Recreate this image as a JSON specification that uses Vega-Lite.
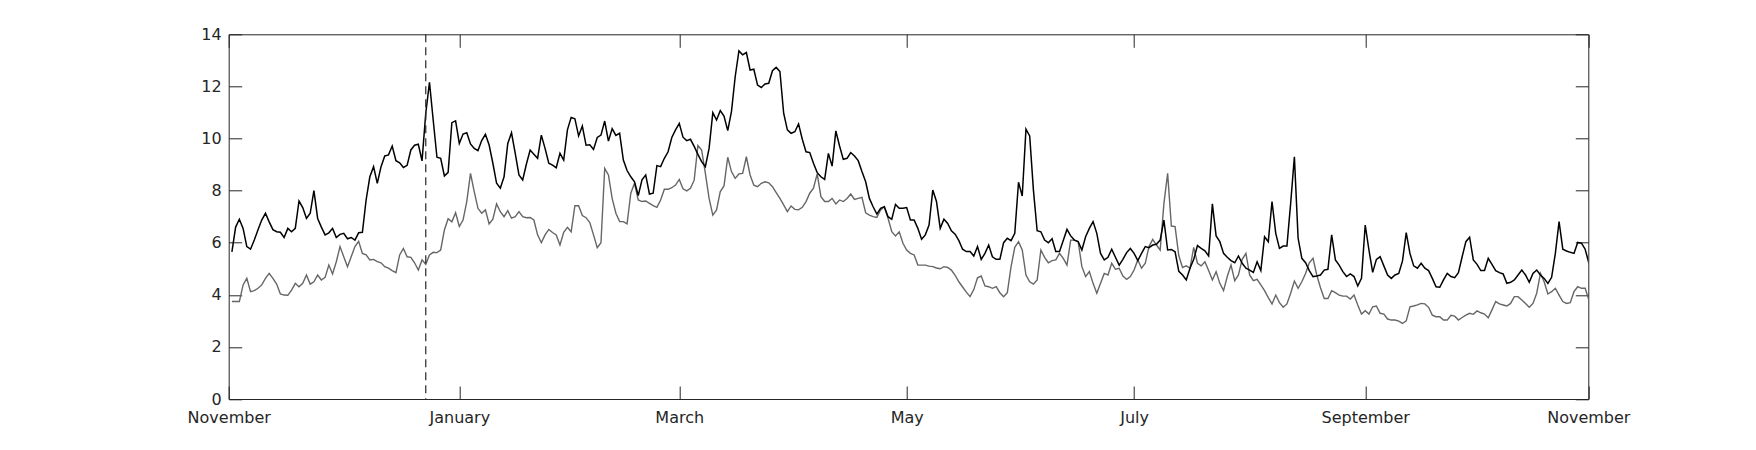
{
  "$schema": "https://vega.github.io/schema/vega-lite/v6.json",
  "width": 1359.6,
  "height": 364.7,
  "autosize": {"type": "none"},
  "padding": {"left": 228.7, "top": 34.3, "right": 167.7, "bottom": 51},
  "background": "white",
  "config": {
    "view": {"stroke": "#262626", "strokeWidth": 1},
    "axis": {
      "domain": false, "grid": false, "ticks": true, "tickColor": "#262626", "tickWidth": 1, "tickSize": -13,
      "labelFont": "DejaVu Sans", "labelFontSize": 16, "labelColor": "#262626", "title": null,
      "labelFlush": false, "labelOverlap": false, "labelBound": false
    }
  },
  "data": {"values": [
    {"d":"2013-11-01","a":5.65,"b":3.74},{"d":"2013-11-02","a":6.6,"b":3.74},{"d":"2013-11-03","a":6.9,"b":3.74},{"d":"2013-11-04","a":6.55,"b":4.38},{"d":"2013-11-05","a":5.85,"b":4.63},{"d":"2013-11-06","a":5.75,"b":4.12},{"d":"2013-11-07","a":6.1,"b":4.16},{"d":"2013-11-08","a":6.5,"b":4.25},{"d":"2013-11-09","a":6.87,"b":4.38},{"d":"2013-11-10","a":7.13,"b":4.63},
    {"d":"2013-11-11","a":6.8,"b":4.82},{"d":"2013-11-12","a":6.5,"b":4.63},{"d":"2013-11-13","a":6.42,"b":4.41},{"d":"2013-11-14","a":6.4,"b":4.03},{"d":"2013-11-15","a":6.2,"b":3.99},{"d":"2013-11-16","a":6.55,"b":3.98},{"d":"2013-11-17","a":6.42,"b":4.18},{"d":"2013-11-18","a":6.55,"b":4.44},{"d":"2013-11-19","a":7.6,"b":4.31},{"d":"2013-11-20","a":7.35,"b":4.44},
    {"d":"2013-11-21","a":6.93,"b":4.76},{"d":"2013-11-22","a":7.13,"b":4.41},{"d":"2013-11-23","a":8.0,"b":4.5},{"d":"2013-11-24","a":6.93,"b":4.76},{"d":"2013-11-25","a":6.6,"b":4.57},{"d":"2013-11-26","a":6.3,"b":4.67},{"d":"2013-11-27","a":6.38,"b":5.14},{"d":"2013-11-28","a":6.55,"b":4.8},{"d":"2013-11-29","a":6.2,"b":5.27},{"d":"2013-11-30","a":6.32,"b":5.85},
    {"d":"2013-12-01","a":6.36,"b":5.46},{"d":"2013-12-02","a":6.15,"b":5.08},{"d":"2013-12-03","a":6.2,"b":5.46},{"d":"2013-12-04","a":6.1,"b":5.85},{"d":"2013-12-05","a":6.38,"b":6.05},{"d":"2013-12-06","a":6.4,"b":5.59},{"d":"2013-12-07","a":7.64,"b":5.53},{"d":"2013-12-08","a":8.53,"b":5.34},{"d":"2013-12-09","a":8.92,"b":5.36},{"d":"2013-12-10","a":8.28,"b":5.27},
    {"d":"2013-12-11","a":8.92,"b":5.23},{"d":"2013-12-12","a":9.33,"b":5.08},{"d":"2013-12-13","a":9.37,"b":5.02},{"d":"2013-12-14","a":9.71,"b":4.93},{"d":"2013-12-15","a":9.15,"b":4.85},{"d":"2013-12-16","a":9.07,"b":5.53},{"d":"2013-12-17","a":8.89,"b":5.78},{"d":"2013-12-18","a":8.97,"b":5.46},{"d":"2013-12-19","a":9.56,"b":5.44},{"d":"2013-12-20","a":9.74,"b":5.23},
    {"d":"2013-12-21","a":9.78,"b":4.95},{"d":"2013-12-22","a":9.14,"b":5.34},{"d":"2013-12-23","a":10.97,"b":5.17},{"d":"2013-12-24","a":12.16,"b":5.53},{"d":"2013-12-25","a":10.7,"b":5.63},{"d":"2013-12-26","a":9.28,"b":5.62},{"d":"2013-12-27","a":9.24,"b":5.72},{"d":"2013-12-28","a":8.56,"b":6.49},{"d":"2013-12-29","a":8.7,"b":6.92},{"d":"2013-12-30","a":10.61,"b":6.8},
    {"d":"2013-12-31","a":10.68,"b":7.15},
    {"d":"2014-01-01","a":9.81,"b":6.62},{"d":"2014-01-02","a":10.17,"b":6.87},{"d":"2014-01-03","a":10.22,"b":7.58},{"d":"2014-01-04","a":9.79,"b":8.66},{"d":"2014-01-05","a":9.62,"b":7.96},{"d":"2014-01-06","a":9.53,"b":7.32},{"d":"2014-01-07","a":9.92,"b":7.13},{"d":"2014-01-08","a":10.16,"b":7.26},{"d":"2014-01-09","a":9.75,"b":6.72},{"d":"2014-01-10","a":9.05,"b":6.9},
    {"d":"2014-01-11","a":8.28,"b":7.49},{"d":"2014-01-12","a":8.09,"b":7.19},{"d":"2014-01-13","a":8.53,"b":7.0},{"d":"2014-01-14","a":9.81,"b":7.23},{"d":"2014-01-15","a":10.22,"b":6.94},{"d":"2014-01-16","a":9.43,"b":7.0},{"d":"2014-01-17","a":8.6,"b":7.19},{"d":"2014-01-18","a":8.41,"b":7.0},{"d":"2014-01-19","a":9.02,"b":6.96},{"d":"2014-01-20","a":9.56,"b":6.97},
    {"d":"2014-01-21","a":9.4,"b":6.87},{"d":"2014-01-22","a":9.24,"b":6.3},{"d":"2014-01-23","a":10.13,"b":6.0},{"d":"2014-01-24","a":9.62,"b":6.3},{"d":"2014-01-25","a":9.05,"b":6.51},{"d":"2014-01-26","a":8.98,"b":6.39},{"d":"2014-01-27","a":8.88,"b":6.3},{"d":"2014-01-28","a":9.43,"b":5.91},{"d":"2014-01-29","a":9.17,"b":6.4},{"d":"2014-01-30","a":10.33,"b":6.59},
    {"d":"2014-01-31","a":10.81,"b":6.42},
    {"d":"2014-02-01","a":10.76,"b":7.42},{"d":"2014-02-02","a":10.1,"b":7.42},{"d":"2014-02-03","a":10.48,"b":7.04},{"d":"2014-02-04","a":9.74,"b":6.96},{"d":"2014-02-05","a":9.76,"b":6.77},{"d":"2014-02-06","a":9.58,"b":6.3},{"d":"2014-02-07","a":10.04,"b":5.81},{"d":"2014-02-08","a":10.13,"b":6.0},{"d":"2014-02-09","a":10.67,"b":8.85},{"d":"2014-02-10","a":9.9,"b":8.6},
    {"d":"2014-02-11","a":10.38,"b":7.7},{"d":"2014-02-12","a":10.12,"b":7.13},{"d":"2014-02-13","a":10.2,"b":6.81},{"d":"2014-02-14","a":9.17,"b":6.81},{"d":"2014-02-15","a":8.77,"b":6.72},{"d":"2014-02-16","a":8.53,"b":7.9},{"d":"2014-02-17","a":8.34,"b":8.28},{"d":"2014-02-18","a":7.81,"b":7.64},{"d":"2014-02-19","a":8.41,"b":7.58},{"d":"2014-02-20","a":8.6,"b":7.6},
    {"d":"2014-02-21","a":7.87,"b":7.51},{"d":"2014-02-22","a":7.9,"b":7.42},{"d":"2014-02-23","a":8.96,"b":7.36},{"d":"2014-02-24","a":8.92,"b":7.64},{"d":"2014-02-25","a":9.24,"b":8.05},{"d":"2014-02-26","a":9.49,"b":8.05},{"d":"2014-02-27","a":10.04,"b":8.11},{"d":"2014-02-28","a":10.33,"b":8.21},
    {"d":"2014-03-01","a":10.58,"b":8.43},{"d":"2014-03-02","a":10.05,"b":8.07},{"d":"2014-03-03","a":9.92,"b":7.99},{"d":"2014-03-04","a":9.97,"b":8.09},{"d":"2014-03-05","a":9.7,"b":8.4},{"d":"2014-03-06","a":9.39,"b":9.73},{"d":"2014-03-07","a":9.11,"b":9.56},{"d":"2014-03-08","a":8.92,"b":8.66},{"d":"2014-03-09","a":9.62,"b":7.7},{"d":"2014-03-10","a":10.99,"b":7.06},
    {"d":"2014-03-11","a":10.71,"b":7.26},{"d":"2014-03-12","a":11.07,"b":7.96},{"d":"2014-03-13","a":10.86,"b":8.18},{"d":"2014-03-14","a":10.3,"b":9.28},{"d":"2014-03-15","a":11.03,"b":8.73},{"d":"2014-03-16","a":12.37,"b":8.47},{"d":"2014-03-17","a":13.36,"b":8.64},{"d":"2014-03-18","a":13.21,"b":8.66},{"d":"2014-03-19","a":13.3,"b":9.3},{"d":"2014-03-20","a":12.63,"b":8.6},
    {"d":"2014-03-21","a":12.66,"b":8.21},{"d":"2014-03-22","a":12.05,"b":8.15},{"d":"2014-03-23","a":11.96,"b":8.28},{"d":"2014-03-24","a":12.09,"b":8.34},{"d":"2014-03-25","a":12.12,"b":8.3},{"d":"2014-03-26","a":12.6,"b":8.15},{"d":"2014-03-27","a":12.73,"b":7.92},{"d":"2014-03-28","a":12.57,"b":7.7},{"d":"2014-03-29","a":10.97,"b":7.45},{"d":"2014-03-30","a":10.33,"b":7.19},
    {"d":"2014-03-31","a":10.2,"b":7.41},
    {"d":"2014-04-01","a":10.26,"b":7.28},{"d":"2014-04-02","a":10.56,"b":7.26},{"d":"2014-04-03","a":9.97,"b":7.36},{"d":"2014-04-04","a":9.49,"b":7.58},{"d":"2014-04-05","a":9.46,"b":7.9},{"d":"2014-04-06","a":9.05,"b":8.09},{"d":"2014-04-07","a":8.69,"b":8.64},{"d":"2014-04-08","a":8.53,"b":7.77},{"d":"2014-04-09","a":8.43,"b":7.58},{"d":"2014-04-10","a":9.43,"b":7.58},
    {"d":"2014-04-11","a":8.94,"b":7.7},{"d":"2014-04-12","a":10.29,"b":7.49},{"d":"2014-04-13","a":9.71,"b":7.64},{"d":"2014-04-14","a":9.2,"b":7.58},{"d":"2014-04-15","a":9.24,"b":7.7},{"d":"2014-04-16","a":9.46,"b":7.87},{"d":"2014-04-17","a":9.33,"b":7.66},{"d":"2014-04-18","a":9.15,"b":7.7},{"d":"2014-04-19","a":8.73,"b":7.74},{"d":"2014-04-20","a":8.34,"b":7.15},
    {"d":"2014-04-21","a":7.7,"b":7.06},{"d":"2014-04-22","a":7.38,"b":7.0},{"d":"2014-04-23","a":7.1,"b":6.97},{"d":"2014-04-24","a":7.32,"b":7.26},{"d":"2014-04-25","a":7.38,"b":7.38},{"d":"2014-04-26","a":7.0,"b":6.94},{"d":"2014-04-27","a":6.9,"b":6.42},{"d":"2014-04-28","a":7.47,"b":6.26},{"d":"2014-04-29","a":7.32,"b":6.42},{"d":"2014-04-30","a":7.32,"b":5.98},
    {"d":"2014-05-01","a":7.35,"b":5.72},{"d":"2014-05-02","a":6.87,"b":5.59},{"d":"2014-05-03","a":6.87,"b":5.53},{"d":"2014-05-04","a":6.55,"b":5.14},{"d":"2014-05-05","a":6.13,"b":5.14},{"d":"2014-05-06","a":6.3,"b":5.14},{"d":"2014-05-07","a":6.68,"b":5.1},{"d":"2014-05-08","a":8.02,"b":5.08},{"d":"2014-05-09","a":7.58,"b":5.03},{"d":"2014-05-10","a":6.55,"b":5.0},
    {"d":"2014-05-11","a":6.9,"b":5.08},{"d":"2014-05-12","a":6.74,"b":5.05},{"d":"2014-05-13","a":6.46,"b":4.95},{"d":"2014-05-14","a":6.33,"b":4.75},{"d":"2014-05-15","a":6.08,"b":4.5},{"d":"2014-05-16","a":5.75,"b":4.3},{"d":"2014-05-17","a":5.66,"b":4.1},{"d":"2014-05-18","a":5.66,"b":3.93},{"d":"2014-05-19","a":5.49,"b":4.2},{"d":"2014-05-20","a":5.85,"b":4.65},
    {"d":"2014-05-21","a":5.36,"b":4.72},{"d":"2014-05-22","a":5.59,"b":4.34},{"d":"2014-05-23","a":5.91,"b":4.31},{"d":"2014-05-24","a":5.46,"b":4.25},{"d":"2014-05-25","a":5.36,"b":4.31},{"d":"2014-05-26","a":5.36,"b":4.08},{"d":"2014-05-27","a":6.0,"b":3.93},{"d":"2014-05-28","a":6.17,"b":4.08},{"d":"2014-05-29","a":6.08,"b":5.08},{"d":"2014-05-30","a":6.36,"b":5.82},
    {"d":"2014-05-31","a":8.32,"b":6.04},
    {"d":"2014-06-01","a":7.79,"b":5.72},{"d":"2014-06-02","a":10.36,"b":4.76},{"d":"2014-06-03","a":10.1,"b":4.5},{"d":"2014-06-04","a":8.02,"b":4.41},{"d":"2014-06-05","a":6.46,"b":4.57},{"d":"2014-06-06","a":6.42,"b":5.72},{"d":"2014-06-07","a":6.1,"b":5.44},{"d":"2014-06-08","a":6.0,"b":5.23},{"d":"2014-06-09","a":6.15,"b":5.31},{"d":"2014-06-10","a":5.66,"b":5.34},
    {"d":"2014-06-11","a":5.66,"b":5.59},{"d":"2014-06-12","a":6.08,"b":5.4},{"d":"2014-06-13","a":6.51,"b":5.14},{"d":"2014-06-14","a":6.26,"b":6.1},{"d":"2014-06-15","a":6.1,"b":6.1},{"d":"2014-06-16","a":6.04,"b":6.04},{"d":"2014-06-17","a":5.72,"b":5.08},{"d":"2014-06-18","a":6.23,"b":4.7},{"d":"2014-06-19","a":6.55,"b":4.89},{"d":"2014-06-20","a":6.81,"b":4.44},
    {"d":"2014-06-21","a":6.36,"b":4.06},{"d":"2014-06-22","a":5.59,"b":4.44},{"d":"2014-06-23","a":5.34,"b":4.82},{"d":"2014-06-24","a":5.44,"b":4.76},{"d":"2014-06-25","a":5.75,"b":5.21},{"d":"2014-06-26","a":5.44,"b":4.98},{"d":"2014-06-27","a":5.14,"b":5.02},{"d":"2014-06-28","a":5.36,"b":4.72},{"d":"2014-06-29","a":5.62,"b":4.59},{"d":"2014-06-30","a":5.78,"b":4.7},
    {"d":"2014-07-01","a":5.59,"b":4.95},{"d":"2014-07-02","a":5.31,"b":5.34},{"d":"2014-07-03","a":5.59,"b":5.02},{"d":"2014-07-04","a":5.85,"b":5.21},{"d":"2014-07-05","a":5.81,"b":5.85},{"d":"2014-07-06","a":5.91,"b":6.13},{"d":"2014-07-07","a":5.94,"b":5.91},{"d":"2014-07-08","a":6.1,"b":5.72},{"d":"2014-07-09","a":6.87,"b":7.5},{"d":"2014-07-10","a":5.72,"b":8.66},
    {"d":"2014-07-11","a":5.74,"b":6.64},{"d":"2014-07-12","a":5.65,"b":6.62},{"d":"2014-07-13","a":4.9,"b":5.5},{"d":"2014-07-14","a":4.76,"b":5.05},{"d":"2014-07-15","a":4.57,"b":5.11},{"d":"2014-07-16","a":5.02,"b":5.02},{"d":"2014-07-17","a":5.36,"b":5.82},{"d":"2014-07-18","a":5.89,"b":5.21},{"d":"2014-07-19","a":5.78,"b":5.11},{"d":"2014-07-20","a":5.69,"b":5.27},
    {"d":"2014-07-21","a":5.49,"b":4.93},{"d":"2014-07-22","a":7.49,"b":4.57},{"d":"2014-07-23","a":6.26,"b":4.89},{"d":"2014-07-24","a":6.04,"b":4.44},{"d":"2014-07-25","a":5.59,"b":4.16},{"d":"2014-07-26","a":5.44,"b":4.7},{"d":"2014-07-27","a":5.31,"b":5.14},{"d":"2014-07-28","a":5.23,"b":4.54},{"d":"2014-07-29","a":5.49,"b":4.76},{"d":"2014-07-30","a":5.21,"b":5.36},
    {"d":"2014-07-31","a":5.02,"b":5.59},
    {"d":"2014-08-01","a":4.95,"b":4.76},{"d":"2014-08-02","a":4.86,"b":4.54},{"d":"2014-08-03","a":5.27,"b":4.59},{"d":"2014-08-04","a":4.93,"b":4.38},{"d":"2014-08-05","a":6.23,"b":4.16},{"d":"2014-08-06","a":6.04,"b":3.89},{"d":"2014-08-07","a":7.58,"b":3.65},{"d":"2014-08-08","a":6.36,"b":3.99},{"d":"2014-08-09","a":5.78,"b":3.7},{"d":"2014-08-10","a":5.87,"b":3.52},
    {"d":"2014-08-11","a":5.87,"b":3.65},{"d":"2014-08-12","a":7.51,"b":4.06},{"d":"2014-08-13","a":9.3,"b":4.53},{"d":"2014-08-14","a":6.17,"b":4.25},{"d":"2014-08-15","a":5.4,"b":4.5},{"d":"2014-08-16","a":5.23,"b":4.82},{"d":"2014-08-17","a":4.93,"b":5.23},{"d":"2014-08-18","a":4.7,"b":5.4},{"d":"2014-08-19","a":4.72,"b":4.76},{"d":"2014-08-20","a":4.76,"b":4.27},
    {"d":"2014-08-21","a":4.95,"b":3.86},{"d":"2014-08-22","a":4.98,"b":3.86},{"d":"2014-08-23","a":6.3,"b":4.16},{"d":"2014-08-24","a":5.34,"b":4.08},{"d":"2014-08-25","a":5.14,"b":3.99},{"d":"2014-08-26","a":4.89,"b":3.95},{"d":"2014-08-27","a":4.7,"b":3.95},{"d":"2014-08-28","a":4.8,"b":3.84},{"d":"2014-08-29","a":4.7,"b":3.99},{"d":"2014-08-30","a":4.34,"b":3.61},
    {"d":"2014-08-31","a":4.63,"b":3.26},
    {"d":"2014-09-01","a":6.68,"b":3.39},{"d":"2014-09-02","a":5.72,"b":3.26},{"d":"2014-09-03","a":4.86,"b":3.54},{"d":"2014-09-04","a":5.36,"b":3.57},{"d":"2014-09-05","a":5.46,"b":3.29},{"d":"2014-09-06","a":5.11,"b":3.26},{"d":"2014-09-07","a":4.76,"b":3.07},{"d":"2014-09-08","a":4.63,"b":3.03},{"d":"2014-09-09","a":4.76,"b":3.03},{"d":"2014-09-10","a":4.82,"b":2.99},
    {"d":"2014-09-11","a":5.3,"b":2.9},{"d":"2014-09-12","a":6.39,"b":3.0},{"d":"2014-09-13","a":5.59,"b":3.54},{"d":"2014-09-14","a":5.11,"b":3.57},{"d":"2014-09-15","a":5.02,"b":3.61},{"d":"2014-09-16","a":5.21,"b":3.67},{"d":"2014-09-17","a":5.02,"b":3.65},{"d":"2014-09-18","a":4.93,"b":3.52},{"d":"2014-09-19","a":4.63,"b":3.22},{"d":"2014-09-20","a":4.31,"b":3.16},
    {"d":"2014-09-21","a":4.29,"b":3.16},{"d":"2014-09-22","a":4.57,"b":3.03},{"d":"2014-09-23","a":4.82,"b":3.03},{"d":"2014-09-24","a":4.7,"b":3.21},{"d":"2014-09-25","a":4.66,"b":3.18},{"d":"2014-09-26","a":4.85,"b":3.03},{"d":"2014-09-27","a":5.46,"b":3.13},{"d":"2014-09-28","a":6.04,"b":3.22},{"d":"2014-09-29","a":6.21,"b":3.29},{"d":"2014-09-30","a":5.34,"b":3.25},
    {"d":"2014-10-01","a":5.17,"b":3.38},{"d":"2014-10-02","a":4.93,"b":3.31},{"d":"2014-10-03","a":4.93,"b":3.26},{"d":"2014-10-04","a":5.4,"b":3.12},{"d":"2014-10-05","a":5.17,"b":3.42},{"d":"2014-10-06","a":4.93,"b":3.74},{"d":"2014-10-07","a":4.85,"b":3.65},{"d":"2014-10-08","a":4.8,"b":3.61},{"d":"2014-10-09","a":4.44,"b":3.57},{"d":"2014-10-10","a":4.48,"b":3.67},
    {"d":"2014-10-11","a":4.57,"b":3.93},{"d":"2014-10-12","a":4.76,"b":3.93},{"d":"2014-10-13","a":4.95,"b":3.8},{"d":"2014-10-14","a":4.76,"b":3.67},{"d":"2014-10-15","a":4.48,"b":3.52},{"d":"2014-10-16","a":4.82,"b":3.67},{"d":"2014-10-17","a":4.95,"b":4.06},{"d":"2014-10-18","a":4.76,"b":4.82},{"d":"2014-10-19","a":4.63,"b":4.5},{"d":"2014-10-20","a":4.44,"b":4.03},
    {"d":"2014-10-21","a":4.67,"b":4.12},{"d":"2014-10-22","a":5.59,"b":4.25},{"d":"2014-10-23","a":6.81,"b":3.99},{"d":"2014-10-24","a":5.75,"b":3.74},{"d":"2014-10-25","a":5.68,"b":3.67},{"d":"2014-10-26","a":5.63,"b":3.7},{"d":"2014-10-27","a":5.59,"b":4.12},{"d":"2014-10-28","a":6.01,"b":4.31},{"d":"2014-10-29","a":5.98,"b":4.25},{"d":"2014-10-30","a":5.75,"b":4.25},
    {"d":"2014-10-31","a":5.21,"b":3.8}
  ]},
  "layer": [
    {
      "mark": {"type": "line", "color": "#666666", "strokeWidth": 1.4, "clip": true},
      "encoding": {
        "x": {"field": "d", "type": "temporal",
              "scale": {"type": "utc", "domain": [1383189696000, 1414699776000], "nice": false},
              "axis": {"orient": "top", "labels": false, "values": [1383189696000, 1388534400000, 1393632000000, 1398902400000, 1404172800000, 1409529600000, 1414699776000]}},
        "y": {"field": "b", "type": "quantitative",
              "scale": {"domain": [0, 14], "nice": false, "zero": false},
              "axis": {"orient": "right", "labels": false, "values": [0, 2, 4, 6, 8, 10, 12, 14]}}
      }
    },
    {
      "mark": {"type": "line", "color": "#000000", "strokeWidth": 1.5, "clip": true},
      "encoding": {
        "x": {"field": "d", "type": "temporal",
              "axis": {"orient": "bottom", "labelPadding": 23.7,
                       "values": [1383189696000, 1388534400000, 1393632000000, 1398902400000, 1404172800000, 1409529600000, 1414699776000],
                       "labelExpr": "utcFormat(toNumber(datum.value) + 172800000, '%B')"}},
        "y": {"field": "a", "type": "quantitative",
              "axis": {"orient": "left", "labelPadding": 20.5, "values": [0, 2, 4, 6, 8, 10, 12, 14]}}
      }
    },
    {
      "data": {"values": [{"event": "2013-12-23"}]},
      "mark": {"type": "rule", "color": "#262626", "strokeWidth": 1.2, "strokeDash": [8, 5]},
      "encoding": {
        "x": {"field": "event", "type": "temporal", "axis": null}
      }
    }
  ],
  "resolve": {"axis": {"x": "independent", "y": "independent"}}
}
